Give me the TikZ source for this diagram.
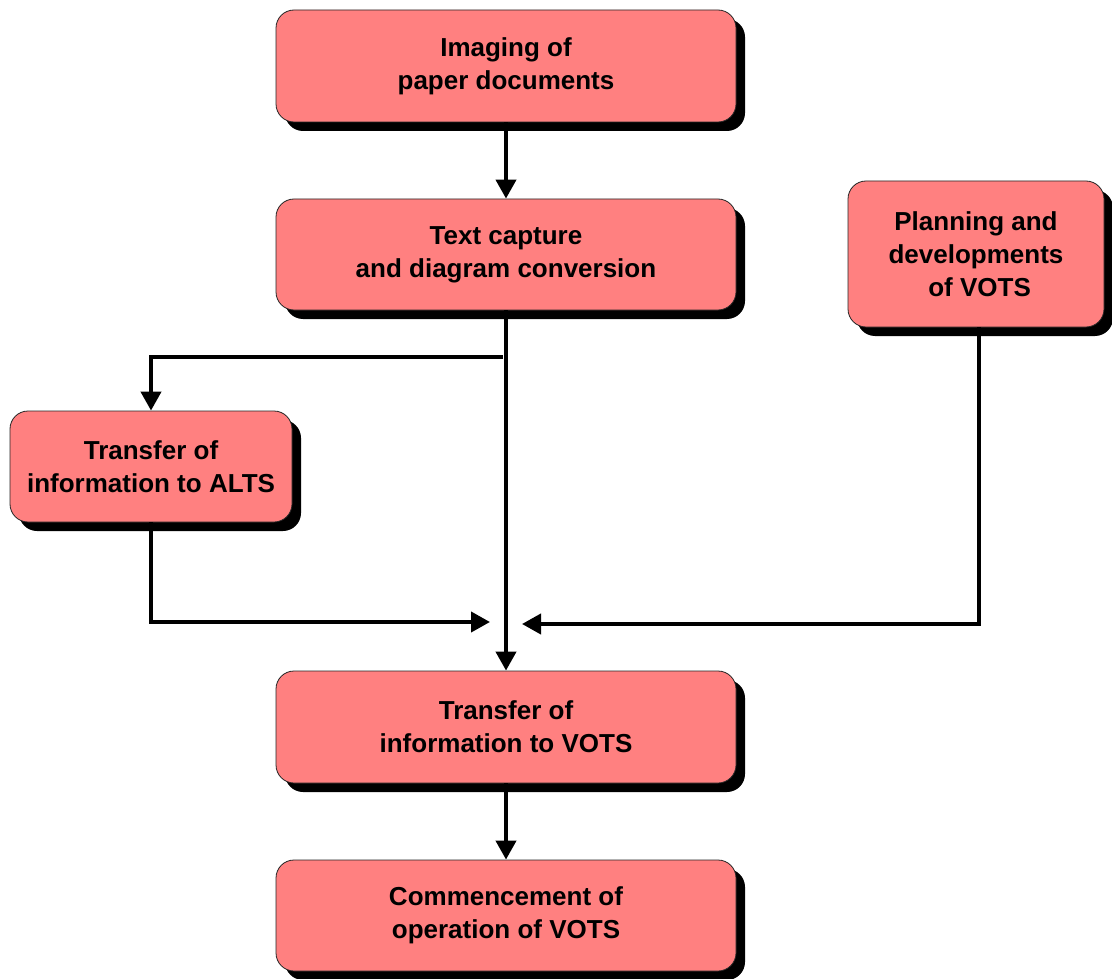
\documentclass[tikz,border=0pt]{standalone}
\usepackage{fontspec}
\setmainfont{Liberation Sans}
\usetikzlibrary{arrows.meta,shadows}
\definecolor{boxfill}{RGB}{255,128,128}
\tikzset{
  stage/.style={draw=black!85, line width=0.8pt, fill=boxfill, rounded corners=18pt,
    align=center, inner sep=0pt, font=\fontsize{26}{33}\selectfont\bfseries,
    drop shadow={shadow xshift=9pt, shadow yshift=-9pt, fill=black, opacity=1}},
  flow/.style={line width=4pt, -{Triangle[width=20pt,length=19pt]}},
  plainline/.style={line width=4pt}
}
\begin{document}
\begin{tikzpicture}[x=1pt,y=-1pt]
\useasboundingbox (0,0) rectangle (1112,979);

\node[stage, minimum width=460pt, minimum height=112pt] (img) at (506,66) {Imaging of\\paper documents};
\node[stage, minimum width=460pt, minimum height=111pt] (txt) at (506,254.5) {Text capture\\and diagram conversion};
\node[stage, minimum width=256pt, minimum height=146pt] (plan) at (976,254) {Planning and\\developments\\\ of VOTS};
\node[stage, minimum width=282pt, minimum height=111pt] (alts) at (151,466.5) {Transfer of\\information to ALTS};
\node[stage, minimum width=460pt, minimum height=112pt] (vots) at (506,727) {Transfer of\\information to VOTS};
\node[stage, minimum width=460pt, minimum height=111pt] (start) at (506,915.5) {Commencement of\\operation of VOTS};

\coordinate (fork) at (503,357);
\coordinate (inL) at (490,622);
\coordinate (inR) at (522,624);

\draw[flow] (img.south) -- (txt.north);
\draw[flow] (txt.south) -- (vots.north);
\draw[flow] (fork) -| (alts.north);
\draw[flow] (alts.south) |- (inL);
\draw[flow] ([xshift=3pt]plan.south) |- (inR);
\draw[flow] (vots.south) -- (start.north);
\end{tikzpicture}
\end{document}
